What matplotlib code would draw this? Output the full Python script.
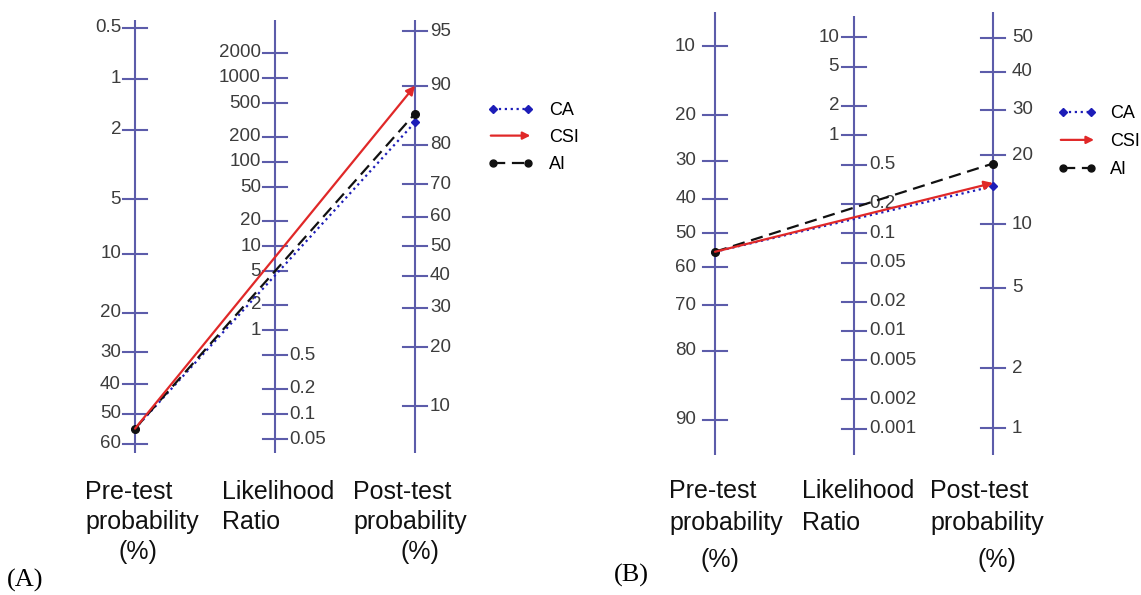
import numpy as np
import matplotlib
matplotlib.use("Agg")
import matplotlib.pyplot as plt
from matplotlib.lines import Line2D
from matplotlib.patches import FancyArrowPatch
from matplotlib.legend_handler import HandlerBase

plt.rcParams["font.family"] = ["Liberation Sans", "DejaVu Sans"]

# --- data ------------------------------------------------------------------
tests = ["CA", "CSI", "AI"]

pre_a = 55
post_a = [84.5, 90, 86]          # CA, CSI, AI  (positive result)
pre_b = 55.5
post_b = [14.8, 15.3, 18.5]      # CA, CSI, AI  (negative result)

pre_ticks_a = [0.5, 1, 2, 5, 10, 20, 30, 40, 50, 60]
lr_ticks_a = [2000, 1000, 500, 200, 100, 50, 20, 10, 5, 2, 1, 0.5, 0.2, 0.1, 0.05]
post_ticks_a = [95, 90, 80, 70, 60, 50, 40, 30, 20, 10]

pre_ticks_b = [10, 20, 30, 40, 50, 60, 70, 80, 90]
lr_ticks_b = [10, 5, 2, 1, 0.5, 0.2, 0.1, 0.05, 0.02, 0.01, 0.005, 0.002, 0.001]
post_ticks_b = [50, 40, 30, 20, 10, 5, 2, 1]

AXIS_COLOR = "#5c5caa"
TEXT_COLOR = "#3c3c3c"
COLORS = {"CA": "#1d1db8", "CSI": "#e02828", "AI": "#111111"}

W, H = 1141, 595
SHIFT = 2.3  # post-test scale sits this many logit units above the pre-test one


def logit(p):
    p = np.asarray(p, dtype=float) / 100.0
    return np.log(p / (1.0 - p))


def y_pre(p):
    return -logit(p)


def y_post(p):
    return logit(p) + SHIFT


def y_lr(lr):
    return np.log(lr) / 2.0 + SHIFT / 2.0


def fmt(v):
    return f"{v:g}"


def make_axes(fig, x0, x1, axis_px, spacing, zero_py, unit):
    ax = fig.add_axes([x0 / W, 0, (x1 - x0) / W, 1])
    ax.set_xlim((x0 - axis_px) / spacing, (x1 - axis_px) / spacing)
    ax.set_ylim((zero_py - H) / unit, zero_py / unit)
    ax.axis("off")
    return ax


def draw_scale(ax, x, ticks, ypos, side, spacing, top, bottom, fs, gap, lr_split=False):
    ax.plot([x, x], [bottom, top], color=AXIS_COLOR, lw=1.5, solid_capstyle="butt")
    half = 12 / spacing
    for t in ticks:
        y = ypos(t)
        ax.plot([x - half, x + half], [y, y], color=AXIS_COLOR, lw=1.5)
        s = side
        if lr_split:
            s = "left" if t >= 1 else "right"
        if s == "left":
            ax.text(x - half - gap / spacing, y, fmt(t), ha="right", va="center",
                    fontsize=fs, color=TEXT_COLOR)
        else:
            ax.text(x + half + gap / spacing, y, fmt(t), ha="left", va="center",
                    fontsize=fs, color=TEXT_COLOR)


def draw_lines(ax, pre, posts):
    y0 = float(y_pre(pre))
    for name, post in zip(tests, posts):
        y1 = float(y_post(post))
        c = COLORS[name]
        if name == "CA":
            ax.plot([0, 2], [y0, y1], color=c, ls=":", lw=1.6, marker="D", ms=4, zorder=4)
        elif name == "AI":
            ax.plot([0, 2], [y0, y1], color=c, ls=(0, (5.5, 3)), lw=1.6, marker="o", ms=5.5, zorder=4)
    for name, post in zip(tests, posts):
        if name == "CSI":
            ax.annotate("", xy=(2, float(y_post(post))), xytext=(0, y0),
                        arrowprops=dict(arrowstyle="-|>", color=COLORS[name], lw=1.6,
                                        mutation_scale=13, shrinkA=0, shrinkB=0), zorder=5)


class ArrowHandler(HandlerBase):
    def create_artists(self, legend, orig_handle, xdescent, ydescent, width, height, fontsize, trans):
        y = height / 2 - ydescent
        arrow = FancyArrowPatch((-xdescent, y), (width - xdescent, y), arrowstyle="-|>",
                                mutation_scale=11, color=orig_handle.get_color(), lw=1.6,
                                transform=trans)
        return [arrow]


def add_legend(ax, fig, left_px, top_px, handlelength, textpad, spacing):
    h_ca = Line2D([], [], color=COLORS["CA"], ls=":", lw=1.6, marker="D", ms=4)
    h_csi = Line2D([], [], color=COLORS["CSI"], lw=1.6)
    h_ai = Line2D([], [], color=COLORS["AI"], ls=(0, (5.5, 3)), lw=1.6, marker="o", ms=5)
    ax.legend([h_ca, h_csi, h_ai], tests, handler_map={h_csi: ArrowHandler()},
              loc="upper left", bbox_to_anchor=(left_px / W, 1 - top_px / H),
              bbox_transform=fig.transFigure, frameon=False, numpoints=2,
              fontsize=13, borderpad=0, borderaxespad=0, labelspacing=spacing,
              handlelength=handlelength, handletextpad=textpad)


def add_titles(fig, lefts, pct_x, line_y, pct_y, linespacing):
    names = ["Pre-test\nprobability", "Likelihood\nRatio", "Post-test\nprobability"]
    for lx, name in zip(lefts, names):
        fig.text(lx / W, 1 - line_y / H, name, ha="left", va="center", fontsize=18,
                 color="#111111", linespacing=linespacing)
    for px in pct_x:
        fig.text(px / W, 1 - pct_y / H, "(%)", ha="center", va="center", fontsize=18,
                 color="#111111")


fig = plt.figure(figsize=(W / 100, H / 100), dpi=100)

# panel A
ax_a = make_axes(fig, 0, 600, 135, 140, 414, 73)
top_a, bot_a = 394 / 73, -39 / 73
draw_scale(ax_a, 0, pre_ticks_a, y_pre, "left", 140, top_a, bot_a, 13.5, 2)
draw_scale(ax_a, 1, lr_ticks_a, y_lr, "left", 140, top_a, bot_a, 13.5, 2, lr_split=True)
draw_scale(ax_a, 2, post_ticks_a, y_post, "right", 140, top_a, bot_a, 13.5, 3)
draw_lines(ax_a, pre_a, post_a)
add_legend(ax_a, fig, 488, 102, 2.5, 0.9, 0.55)
add_titles(fig, [85, 222, 353], [138, 420], 507, 552, 1.28)

# panel B
ax_b = make_axes(fig, 570, W, 715, 139, 233, 85)
top_b, bot_b = 221 / 85, -222 / 85
draw_scale(ax_b, 0, pre_ticks_b, y_pre, "left", 139, top_b, bot_b, 13.5, 7)
draw_scale(ax_b, 1, lr_ticks_b, y_lr, "left", 139, 217 / 85, bot_b, 13.5, 3, lr_split=True)
draw_scale(ax_b, 2, post_ticks_b, y_post, "right", 139, top_b, bot_b, 13.5, 7)
draw_lines(ax_b, pre_b, post_b)
add_legend(ax_b, fig, 1058, 105, 2.15, 0.75, 0.62)
add_titles(fig, [669, 802, 930], [720, 997], 507, 560, 1.45)

fig.text(25 / W, 1 - 580 / H, "(A)", ha="center", va="center", fontsize=19,
         family=["Liberation Serif", "DejaVu Serif"])
fig.text(631 / W, 1 - 575 / H, "(B)", ha="center", va="center", fontsize=19,
         family=["Liberation Serif", "DejaVu Serif"])

fig.savefig("out.png", dpi=100)
